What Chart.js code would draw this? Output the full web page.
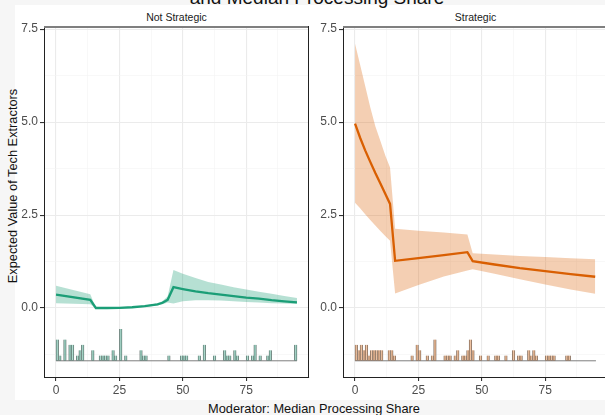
<!DOCTYPE html>
<html>
<head>
<meta charset="utf-8">
<script src="https://cdn.jsdelivr.net/npm/chart.js@4.4.0/dist/chart.umd.min.js"></script>
<style>
  html, body { margin: 0; padding: 0; width: 605px; height: 415px; overflow: hidden; background: #f6f6f6;
               font-family: "Liberation Sans", Arial, sans-serif; }
  #sheet { position: absolute; left: 15px; top: 5px; width: 590px; height: 395px; background: #fff; }
  canvas { position: absolute; left: 0; top: 0; }
  .txt { position: absolute; white-space: nowrap; }
  #title { left: 0; width: 634px; top: -12px; text-align: center; font-size: 19px; line-height: 19px; color: #111; }
  .strip { top: 11px; text-align: center; font-size: 10.5px; color: #1a1a1a; }
  #ytitle { left: 12px; top: 186px; font-size: 12.8px; color: #111; transform: translate(-50%, -50%) rotate(-90deg); }
  #xtitle { left: 314px; top: 408px; font-size: 12.8px; color: #111; transform: translate(-50%, -50%); }
</style>
</head>
<body>
<div id="sheet"></div>
<div class="txt" id="title">and Median Processing Share</div>
<div class="txt strip" style="left:44px;width:265px;">Not Strategic</div>
<div class="txt strip" style="left:343px;width:265px;">Strategic</div>
<div class="txt" id="ytitle">Expected Value of Tech Extractors</div>
<div class="txt" id="xtitle">Moderator: Median Processing Share</div>
<canvas id="left" width="620" height="415"></canvas>
<canvas id="right" width="620" height="415"></canvas>
<script>
// --- Not Strategic panel ---
const nsX     = [0, 13.5, 15.7, 20, 25, 30, 35, 40, 42, 44, 46.3, 50, 55, 60, 65, 70, 75, 80, 85, 90, 95];
const nsFit   = [0.36, 0.22, 0.0, 0.0, 0.005, 0.02, 0.05, 0.10, 0.14, 0.22, 0.56, 0.51, 0.45, 0.40, 0.36, 0.32, 0.28, 0.25, 0.21, 0.18, 0.15];
const nsUpper = [0.60, 0.37, 0.01, 0.01, 0.015, 0.03, 0.07, 0.13, 0.19, 0.31, 1.02, 0.92, 0.81, 0.70, 0.63, 0.56, 0.50, 0.44, 0.38, 0.32, 0.27];
const nsLower = [0.13, 0.10, -0.01, -0.01, -0.005, 0.01, 0.03, 0.07, 0.10, 0.15, 0.12, 0.18, 0.21, 0.21, 0.20, 0.18, 0.16, 0.15, 0.13, 0.12, 0.11];
const nsBins   = [0, 1, 3, 5, 6, 8, 9, 10, 14, 17, 18, 19, 20, 22, 23, 25, 27, 33, 34, 35, 44, 49, 50, 51, 56, 58, 62, 66, 67, 68, 70, 71, 75, 77, 78, 80, 83, 84, 94];
const nsCounts = [4, 1, 4, 3, 3, 1, 2, 3, 2, 1, 1, 1, 1, 2, 1, 6, 1, 2, 1, 1, 1, 1, 1, 1, 1, 3, 1, 2, 1, 1, 2, 1, 1, 1, 3, 1, 1, 2, 3];

// --- Strategic panel ---
const sX     = [0, 2, 4, 6, 8, 10, 12, 13.8, 15.8, 25, 35, 44.3, 46.4, 55, 65, 75, 85, 94.7];
const sFit   = [4.96, 4.58, 4.24, 3.93, 3.63, 3.35, 3.06, 2.80, 1.27, 1.34, 1.42, 1.50, 1.26, 1.17, 1.07, 0.99, 0.91, 0.84];
const sUpper = [7.11, 6.54, 5.97, 5.40, 4.89, 4.49, 4.09, 3.78, 2.13, 2.08, 2.03, 1.98, 1.47, 1.44, 1.40, 1.37, 1.34, 1.31];
const sLower = [2.83, 2.68, 2.52, 2.37, 2.22, 2.07, 1.93, 1.81, 0.39, 0.62, 0.85, 1.01, 1.04, 0.92, 0.77, 0.63, 0.50, 0.38];
const sBins   = [0, 1, 2, 3, 4, 5, 6, 7, 8, 9, 10, 13, 14, 15, 22, 24, 25, 28, 30, 31, 35, 36, 37, 39, 40, 42, 43, 44, 45, 46, 49, 52, 55, 56, 59, 62, 64, 65, 68, 69, 70, 71, 75, 76, 77, 78, 83, 84];
const sCounts = [3, 2, 3, 2, 3, 1, 2, 2, 2, 2, 2, 2, 2, 1, 1, 3, 2, 1, 1, 4, 1, 1, 1, 1, 2, 1, 1, 2, 4, 2, 1, 1, 1, 1, 1, 2, 1, 1, 2, 1, 2, 1, 1, 1, 1, 1, 1, 1];

// rug histogram sits below zero
const rugBase = -1.42;
const rugUnit = 0.143;
const rugSpan = [0, 95];

const FONT = "'Liberation Sans', Arial, sans-serif";

// gray strip line on top, black border on the right of the left panel
const frame = {
    id: 'frame',
    afterDraw(chart, args, opts) {
        const { ctx, chartArea: a } = chart;
        ctx.save();
        ctx.strokeStyle = '#7f7f7f';
        ctx.lineWidth = 2;
        ctx.beginPath();
        ctx.moveTo(a.left, a.top + 1);
        ctx.lineTo(a.right, a.top + 1);
        ctx.stroke();
        if (opts.right) {
            ctx.strokeStyle = '#222';
            ctx.lineWidth = 1;
            ctx.beginPath();
            ctx.moveTo(a.right - 0.5, a.top);
            ctx.lineTo(a.right - 0.5, a.bottom);
            ctx.stroke();
        }
        ctx.restore();
    }
};

function panel(id, xs, fit, upper, lower, bins, counts, color, band, barFill, pad, rightBorder) {
    const pts = ys => xs.map((x, i) => ({ x: x, y: ys[i] }));
    const bars = bins.map((b, i) => ({ x: b + 0.5, y: [rugBase, rugBase + counts[i] * rugUnit] }));
    const isMajorX = c => c.tick && c.tick.value % 25 === 0;
    const isMajorY = c => c.tick && c.tick.value % 2.5 === 0;

    return new Chart(document.getElementById(id), {
        data: {
            datasets: [
                { type: 'line', data: pts(fit), borderColor: color, borderWidth: 2.3, pointRadius: 0, fill: false, order: 0 },
                { type: 'line', data: pts(upper), borderColor: 'rgba(0,0,0,0)', borderWidth: 0, pointRadius: 0, backgroundColor: band, fill: '+1', order: 1 },
                { type: 'line', data: pts(lower), borderColor: 'rgba(0,0,0,0)', borderWidth: 0, pointRadius: 0, fill: false, order: 2 },
                { type: 'line', data: rugSpan.map(x => ({ x: x, y: rugBase })), borderColor: '#707070', borderWidth: 0.9, pointRadius: 0, fill: false, order: 4 },
                { type: 'bar', data: bars, backgroundColor: barFill, borderColor: '#8a8a8a', borderWidth: 0.5,
                  barThickness: 2.7, order: 3 }
            ]
        },
        options: {
            responsive: false,
            animation: false,
            events: [],
            layout: { padding: pad },
            plugins: {
                legend: { display: false },
                tooltip: { enabled: false },
                frame: { right: rightBorder }
            },
            scales: {
                x: {
                    type: 'linear', min: -4.75, max: 99.75, offset: false,
                    ticks: {
                        stepSize: 12.5, includeBounds: false, autoSkip: false, maxRotation: 0, padding: 2,
                        color: '#4d4d4d', font: { family: FONT, size: 12 },
                        callback: v => (v % 25 === 0 ? String(v) : '')
                    },
                    grid: {
                        offset: false,
                        color: c => (isMajorX(c) ? '#ebebeb' : '#f4f4f4'),
                        lineWidth: c => (isMajorX(c) ? 1.1 : 0.6),
                        tickLength: 4,
                        tickColor: c => (isMajorX(c) ? '#333' : 'rgba(0,0,0,0)')
                    },
                    border: { display: true, color: '#222', width: 1 },
                    afterFit: s => { s.height = 20; }
                },
                y: {
                    type: 'linear', min: -1.856, max: 7.585,
                    ticks: {
                        stepSize: 1.25, includeBounds: false, autoSkip: false, padding: 2,
                        color: '#4d4d4d', font: { family: FONT, size: 12 },
                        callback: v => (v % 2.5 === 0 ? v.toFixed(1) : '')
                    },
                    grid: {
                        color: c => (isMajorY(c) ? '#ebebeb' : '#f4f4f4'),
                        lineWidth: c => (isMajorY(c) ? 1.1 : 0.6),
                        tickLength: 4,
                        tickColor: c => (isMajorY(c) ? '#333' : 'rgba(0,0,0,0)')
                    },
                    border: { display: true, color: '#222', width: 1 },
                    afterFit: s => { s.width = 30; }
                }
            }
        },
        plugins: [frame]
    });
}

panel('left', nsX, nsFit, nsUpper, nsLower, nsBins, nsCounts,
      '#1b9e77', 'rgba(27,158,119,0.32)', 'rgba(27,158,119,0.35)',
      { left: 14, right: 311, top: 26, bottom: 18 }, true);

panel('right', sX, sFit, sUpper, sLower, sBins, sCounts,
      '#d95f02', 'rgba(217,95,2,0.3)', 'rgba(217,95,2,0.35)',
      { left: 313, right: 12, top: 26, bottom: 18 }, false);
</script>
</body>
</html>
